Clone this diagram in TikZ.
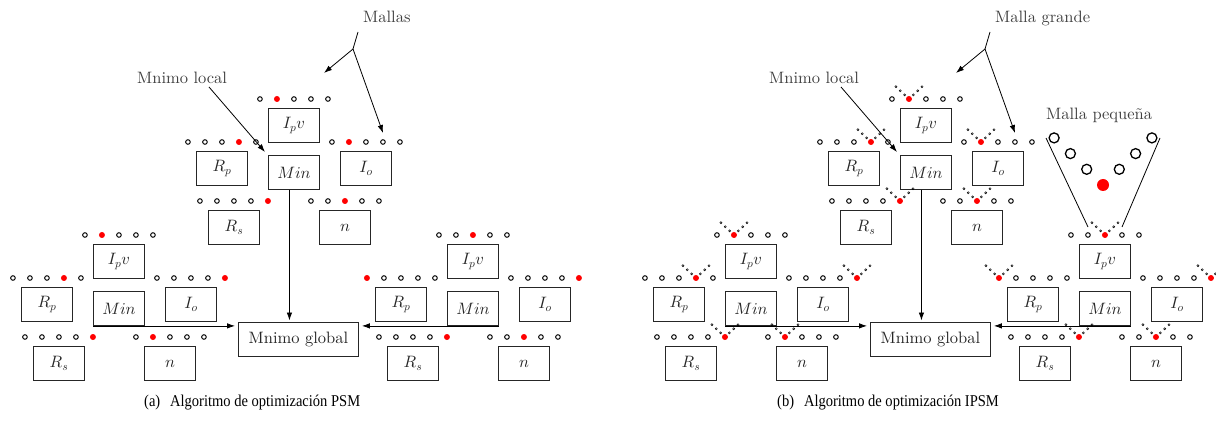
\documentclass[tikz,border=0pt]{standalone}
\usepackage{fontspec}
% labels use the 10pt design of Latin Modern at every size
\setmainfont{lmroman10-regular}[Extension=.otf]
\newfontfamily\capfont{Liberation Serif}[FakeStretch=0.88]
% math italic scaled from the 10pt design as well
\DeclareFontShape{OML}{cmm}{m}{it}{<-> cmmi10}{\skewchar\font'177}
\usetikzlibrary{arrows.meta,calc}

\tikzset{
  varbox/.style={draw=black!85, line width=0.9pt, minimum width=51pt, minimum height=34pt,
    inner sep=0pt, anchor=north west, text=black!85, font=\fontsize{16.5}{18}\selectfont},
  globalbox/.style={varbox, minimum width=120pt},
  lbl/.style={inner sep=0pt, text=black!75, font=\fontsize{16.5}{18}\selectfont},
  captext/.style={inner sep=0pt, anchor=base west, font=\capfont\fontsize{16.5}{18}\selectfont},
  ring/.style={draw=black, line width=0.95pt},
  tinyring/.style={draw=black, line width=0.5pt},
  bigring/.style={draw=black, line width=1.3pt},
  ptr/.style={line width=0.8pt, -{Latex[length=8pt,width=5.5pt]}},
  plain/.style={line width=0.8pt},
}

% one row of five grid points above a box; #2 = index of the best point, #3 = 1 adds the refined mesh
\newcommand\gridrow[3]{%
  \foreach \k in {0,...,4}{%
    \ifnum\k=#2\relax
      \fill[red] ($(#1.north)+(\k*17-34,-9)$) circle[radius=3pt];
    \else
      \draw[ring] ($(#1.north)+(\k*17-34,-9)$) circle[radius=2.3pt];
    \fi}%
  \ifnum#3=1\relax
    \foreach \j in {1,2,3}{%
      \draw[tinyring] ($(#1.north)+(#2*17-34+\j*4.35,-9-\j*4.1)$) circle[radius=1.05pt];
      \draw[tinyring] ($(#1.north)+(#2*17-34-\j*4.35,-9-\j*4.1)$) circle[radius=1.05pt];
    }%
  \fi}

% a group of parameter boxes; #2,#3 = top-left of the I_p v box
\newcommand\paramgroup[9]{%
  \node[varbox] (#1Ipv) at (#2,#3) {$I_p v$};
  \node[varbox] (#1Rp)  at (#2-72,#3+43) {$R_p$};
  \node[varbox] (#1Min) at (#2,#3+47) {$Min$};
  \node[varbox] (#1Io)  at (#2+72,#3+43) {$I_o$};
  \node[varbox] (#1Rs)  at (#2-60,#3+102) {$R_s$};
  \node[varbox] (#1n)   at (#2+51,#3+102) {$n$};
  \gridrow{#1Ipv}{#4}{#9}
  \gridrow{#1Rp}{#5}{#9}
  \gridrow{#1Io}{#6}{#9}
  \gridrow{#1Rs}{#7}{#9}
  \gridrow{#1n}{#8}{#9}}

% one complete panel: #1 prefix, #2 label of the meshes, #3 refined-mesh flag
\newcommand\searchpanel[3]{%
  \paramgroup{#1T}{268}{108}{1}{3}{1}{4}{2}{#3}
  \paramgroup{#1L}{93}{244}{1}{3}{4}{4}{1}{#3}
  \paramgroup{#1R}{447}{244}{2}{0}{4}{4}{2}{#3}
  \node[globalbox] (#1G) at (238,322) {Mnimo global};
  \draw[ptr, shorten >=1.5pt] ([xshift=-4.5pt]#1TMin.south) -- ([xshift=-4.5pt]#1TMin.south |- #1G.north);
  \draw[ptr, shorten >=3pt] (#1LMin.south west) -- (#1LMin.south west -| #1G.west);
  \draw[ptr, shorten >=3pt] (#1RMin.south east) -- (#1RMin.south east -| #1G.east);
  % labels with their pointers
  \node[lbl, anchor=base west] (#1Meshes) at (363,22.7) {#2};
  \coordinate (#1MeshStem) at (358,32);
  \coordinate (#1MeshFork) at (353,49);
  \coordinate (#1MeshTipA) at (324,73);
  \coordinate (#1MeshTipB) at (383,133);
  \draw[plain] (#1MeshStem) -- (#1MeshFork);
  \draw[ptr] (#1MeshFork) -- (#1MeshTipA);
  \draw[ptr] (#1MeshFork) -- (#1MeshTipB);
  \node[lbl, anchor=base west] (#1Local) at (137,83.5) {Mnimo local};
  \coordinate (#1LocalTail) at (209,87);
  \coordinate (#1LocalTip) at (265,152);
  \draw[ptr] (#1LocalTail) -- (#1LocalTip);}

\begin{document}
\begin{tikzpicture}[x=1pt, y=-1pt]
  \useasboundingbox (0,0) rectangle (1216,422);

  % (a) PSM
  \searchpanel{a}{Mallas}{0}
  \node[captext] (capA) at (144,406.5) {(a)\hspace{0.6em}Algoritmo de optimización PSM};

  % (b) IPSM
  \begin{scope}[xshift=632pt]
    \searchpanel{b}{Malla grande}{1}
  \end{scope}
  \node[captext] (capB) at (777,406.5) {(b)\hspace{0.6em}Algoritmo de optimización IPSM};

  % enlarged view of a small mesh
  \node[lbl, anchor=base west] (smallMesh) at (1046,119.7) {Malla pequeña};
  \foreach \j in {1,2,3}{%
    \draw[bigring] (1103-\j*16.3,185-\j*15.7) circle[radius=5pt];
    \draw[bigring] (1103+\j*16.3,185-\j*15.7) circle[radius=5pt];
  }
  \fill[red] (1103,185) circle[radius=6pt];
  \coordinate (funnelLT) at (1046,138);
  \coordinate (funnelLB) at (1088,227);
  \coordinate (funnelRT) at (1160,138);
  \coordinate (funnelRB) at (1122,227);
  \draw[plain] (funnelLT) -- (funnelLB);
  \draw[plain] (funnelRT) -- (funnelRB);
\end{tikzpicture}
\end{document}
